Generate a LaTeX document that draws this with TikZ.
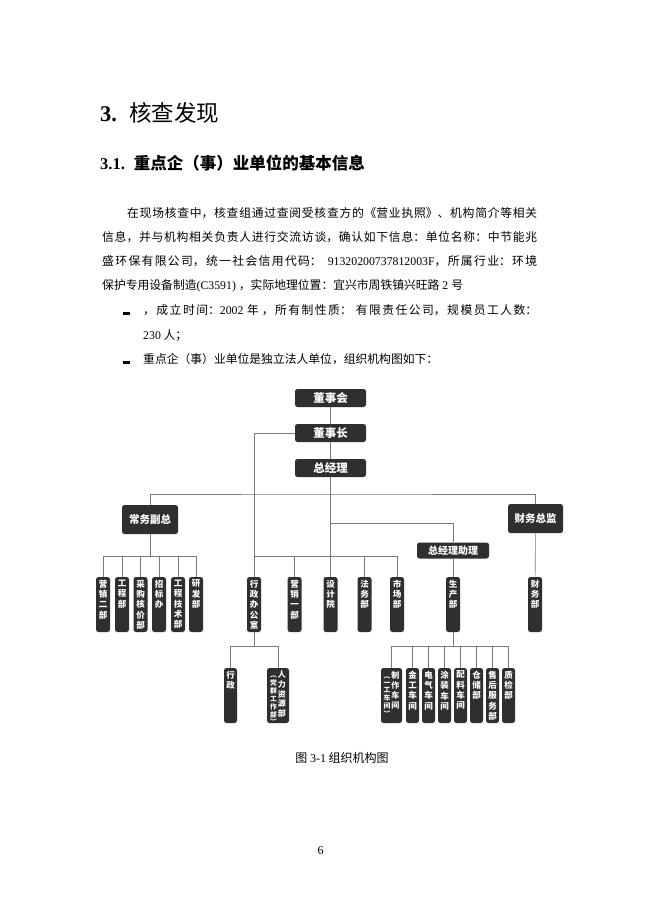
\documentclass[tikz,border=0pt]{standalone}
\usepackage{fontspec}
\setmainfont{Noto Sans CJK SC}
\newfontfamily\lat{Liberation Serif}
\XeTeXlinebreaklocale "zh"
\XeTeXlinebreakskip=0pt plus 2pt
\definecolor{boxgray}{HTML}{2F2F2F}
\definecolor{linegray}{HTML}{7A7A7A}
\newcommand\vcol[1]{\begin{tabular}[t]{@{}c@{}}#1\end{tabular}}
\tikzset{
  body/.style={inner sep=0pt, anchor=base west, font=\fontsize{11.8}{14}\selectfont},
  just/.style={body, text width=#1, align=justify},
  bulletbar/.style={fill=black, minimum width=7pt, minimum height=2.8pt, inner sep=0pt},
  box/.style={fill=boxgray, rounded corners=2.5pt, text=white, inner sep=0pt},
  topbox/.style={box, minimum width=71pt, minimum height=18pt, font=\bfseries\fontsize{11.5}{13}\selectfont},
  vpbox/.style={box, minimum width=56pt, minimum height=29pt, font=\bfseries\fontsize{10.5}{12}\selectfont},
  asstbox/.style={box, minimum width=72pt, minimum height=16pt, font=\bfseries\fontsize{10}{12}\selectfont},
  vtext/.style={anchor=north, yshift=-3pt, text=white, align=center, inner sep=0pt, font=\bfseries\fontsize{8.5}{10.3}\selectfont},
  vb/.style={box, minimum width=14pt, minimum height=55pt, label={[vtext]north:#1}},
  vbw/.style={box, minimum width=22pt, minimum height=55pt, label={[vtext]north:#1}},
  conn/.style={draw=linegray, line width=0.6pt}
}
\begin{document}
\begin{tikzpicture}[x=1pt,y=-1pt]
\fill[white] (0,0) rectangle (650,918);
\useasboundingbox (0,0) rectangle (650,918);

% headings
\node[anchor=base west, inner sep=0pt] (h1) at (100,121.5)
  {\fontsize{22.5}{26}\selectfont{\lat\bfseries 3.}\hspace{12pt}核查发现};
\node[anchor=base west, inner sep=0pt] (h2) at (100,169)
  {\fontsize{16.5}{20}\selectfont{\lat\bfseries 3.1.}\hspace{9pt}\bfseries 重点企（事）业单位的基本信息};

% body text
\node[just=410pt] (l1) at (127,217.5) {\parfillskip=0pt 在现场核查中，核查组通过查阅受核查方的《营业执照》、机构简介等相关\par};
\node[just=435pt] (l2) at (102,241.5) {\parfillskip=0pt 信息，并与机构相关负责人进行交流访谈，确认如下信息：单位名称：中节能兆\par};
\node[just=435pt] (l3) at (102,265.5) {\parfillskip=0pt 盛环保有限公司，统一社会信用代码：\hspace{6pt}{\lat 91320200737812003F}，所属行业：环境\par};
\node[body] (l4) at (102,289.5) {保护专用设备制造{\lat (C3591)}\hspace{3pt}，实际地理位置：宜兴市周铁镇兴旺路{\lat\ 2\ }号};
\node[bulletbar] (bu1) at (126,313.5) {};
\node[just=394pt] (l5) at (143,314.5) {\parfillskip=0pt ，成立时间：{\lat 2002} 年\hspace{3pt}，所有制性质：\hspace{4pt}有限责任公司，规模员工人数：\par};
\node[body] (l6) at (143,339.5) {{\lat 230} 人；};
\node[bulletbar] (bu2) at (126,362.5) {};
\node[body] (l7) at (143,363.5) {重点企（事）业单位是独立法人单位，组织机构图如下：};

% org chart: top
\node[topbox] (dsh) at (330.5,398) {董事会};
\node[topbox] (dsz) at (330.5,433) {董事长};
\node[topbox] (zjl) at (330.5,468) {总经理};
\node[vpbox] (cwfz) at (150,519.5) {常务副总};
\node[vpbox, minimum width=55pt] (cwzj) at (535.5,518.5) {财务总监};
\node[asstbox] (zjlzl) at (453,550.5) {总经理助理};

% row 2
\node[vb={营\\销\\二\\部}] (b1) at (103,604.5) {};
\node[vb={工\\程\\部}] (b2) at (122,604.5) {};
\node[vb={采\\购\\核\\价\\部}] (b3) at (140.5,604.5) {};
\node[vb={招\\标\\办}] (b4) at (159,604.5) {};
\node[vb={工\\程\\技\\术\\部}] (b5) at (178,604.5) {};
\node[vb={研\\发\\部}] (b6) at (196,604.5) {};
\node[vb={行\\政\\办\\公\\室}] (m1) at (254,604.5) {};
\node[vb={营\\销\\一\\部}] (m2) at (294.5,604.5) {};
\node[vb={设\\计\\院}] (m3) at (330.5,604.5) {};
\node[vb={法\\务\\部}] (m4) at (364.5,604.5) {};
\node[vb={市\\场\\部}] (m5) at (397,604.5) {};
\node[vb={生\\产\\部}] (scb) at (453,604.5) {};
\node[vb={财\\务\\部}] (cwb) at (535,604.5) {};

% row 3
\node[vb={行\\政}, minimum width=13pt] (xz) at (230.5,695.5) {};
\node[vbw={{\fontsize{6.8}{7.2}\selectfont\vcol{︵\\党\\群\\工\\作\\部\\︶}}\hspace{1pt}{\fontsize{8}{9.5}\selectfont\vcol{人\\力\\资\\源\\部}}}] (rl) at (278,695.5) {};
\node[vbw={{\fontsize{6.8}{7.2}\selectfont\vcol{︵\\一\\工\\车\\间\\︶}}\hspace{1pt}{\fontsize{8}{10}\selectfont\vcol{制\\作\\车\\间}}}, minimum width=21pt] (p1) at (391.5,695.5) {};
\node[vb={金\\工\\车\\间}, minimum width=13pt] (p2) at (412.5,695.5) {};
\node[vb={电\\气\\车\\间}, minimum width=13pt] (p3) at (428.5,695.5) {};
\node[vb={涂\\装\\车\\间}, minimum width=13pt] (p4) at (444.5,695.5) {};
\node[vb={配\\料\\车\\间}, minimum width=13pt] (p5) at (460.5,695.5) {};
\node[vb={仓\\储\\部}, minimum width=13pt] (p6) at (476.5,695.5) {};
\node[vb={售\\后\\服\\务\\部}, minimum width=13pt] (p7) at (492.5,695.5) {};
\node[vb={质\\检\\部}, minimum width=13pt] (p8) at (508.5,695.5) {};

% bus coordinates
\coordinate (busA) at (330.5,494);
\coordinate (busB) at (330.5,523);
\coordinate (busC) at (150,556);
\coordinate (busD) at (330.5,556);
\coordinate (busE) at (254,646);
\coordinate (busF) at (453,646);

% connectors
\draw[conn] (dsh) -- (dsz);
\draw[conn] (dsz) -- (zjl);
\draw[conn] (dsz.west) -| (m1.north);
\draw[conn] (zjl) -- (m3);
\draw[conn] (cwfz.north) |- (busA) -| (cwzj.north);
\draw[conn] (busB) -| (zjlzl.north);
\draw[conn] (zjlzl) -- (scb);
\draw[conn] (cwzj) -- (cwb);
\draw[conn] (cwfz) -- (busC);
\foreach \n in {b1,b2,b3,b4,b5,b6} \draw[conn] (\n.north) |- (busC);
\foreach \n in {m1,m2,m4,m5} \draw[conn] (\n.north) |- (busD);
\draw[conn] (m1) -- (busE);
\foreach \n in {xz,rl} \draw[conn] (\n.north) |- (busE);
\draw[conn] (scb) -- (busF);
\foreach \n in {p1,p2,p3,p4,p5,p6,p7,p8} \draw[conn] (\n.north) |- (busF);

% caption and page number
\node[anchor=base, inner sep=0pt] (cap) at (342,762.5) {\fontsize{12}{14}\selectfont 图 {\lat 3-1} 组织机构图};
\node[anchor=base, inner sep=0pt] (pg) at (320.5,854) {\lat\fontsize{12}{14}\selectfont 6};
\end{tikzpicture}
\end{document}
